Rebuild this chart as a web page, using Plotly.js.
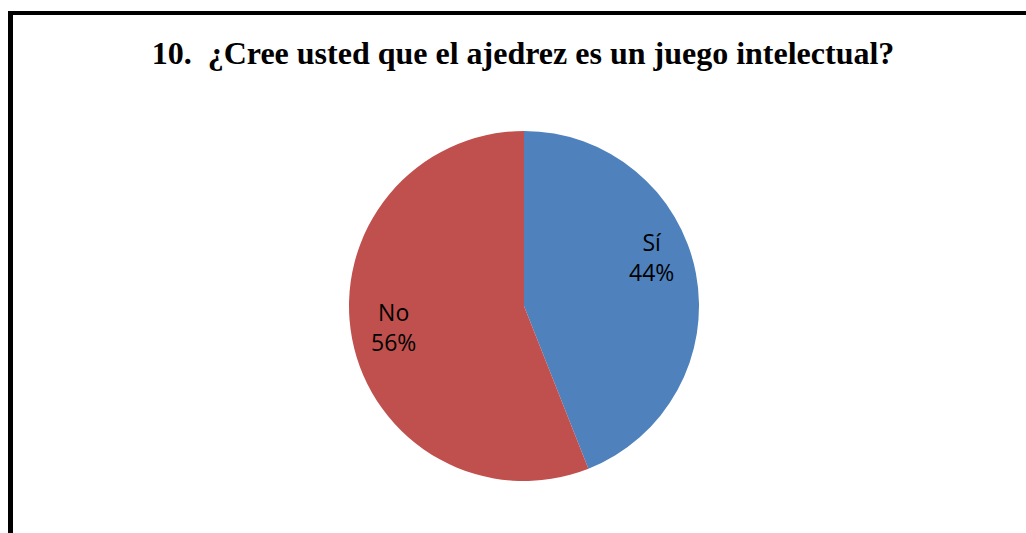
<!DOCTYPE html>
<html>
<head>
<meta charset="utf-8">
<script src="https://cdn.plot.ly/plotly-3.0.1.min.js"></script>
<style>html,body{margin:0;padding:0;background:#fff;}#chart{width:1026px;height:533px;}</style>
</head>
<body>
<div id="chart"></div>
<script>
const labels = ["Sí", "No"];
const values = [44, 56];
const colors = ["#4F81BD", "#C0504D"];
const chartTitle = "10.  ¿Cree usted que el ajedrez es un juego intelectual?";

const W = 1026, H = 533;
const total = values.reduce((a, b) => a + b, 0);
const labelPos = [[651, 257], [393, 327]];

const trace = {
  type: "pie",
  labels: labels,
  values: values,
  sort: false,
  direction: "clockwise",
  rotation: 0,
  marker: {colors: colors, line: {width: 0}},
  textinfo: "none",
  hoverinfo: "none",
  showlegend: false,
  domain: {x: [349 / W, 699 / W], y: [(H - 481) / H, (H - 131) / H]}
};

const annotations = labels.map((lab, i) => ({
  xref: "paper", yref: "paper",
  x: labelPos[i][0] / W, y: 1 - labelPos[i][1] / H,
  xanchor: "center", yanchor: "middle",
  text: lab + "<br>" + Math.round(values[i] / total * 100) + "%",
  showarrow: false,
  font: {family: "Open Sans, Liberation Sans, sans-serif", size: 23, color: "#000"}
}));

const layout = {
  width: W, height: H,
  margin: {l: 0, r: 0, t: 0, b: 0},
  paper_bgcolor: "#fff",
  showlegend: false,
  title: {
    text: "<b>" + chartTitle + "</b>",
    font: {family: "Liberation Serif, Times New Roman, serif", size: 32, color: "#000"},
    x: 523 / W, xanchor: "center",
    y: 1 - 53 / H, yanchor: "middle", yref: "paper"
  },
  annotations: annotations,
  shapes: [
    {type: "line", xref: "paper", yref: "paper", x0: 8 / W, x1: 1, y0: 1 - 13 / H, y1: 1 - 13 / H, line: {color: "#000", width: 4}},
    {type: "line", xref: "paper", yref: "paper", x0: 10.5 / W, x1: 10.5 / W, y0: 0, y1: 1 - 11 / H, line: {color: "#000", width: 5}}
  ]
};

Plotly.newPlot("chart", [trace], layout, {displayModeBar: false, staticPlot: true});
</script>
</body>
</html>
